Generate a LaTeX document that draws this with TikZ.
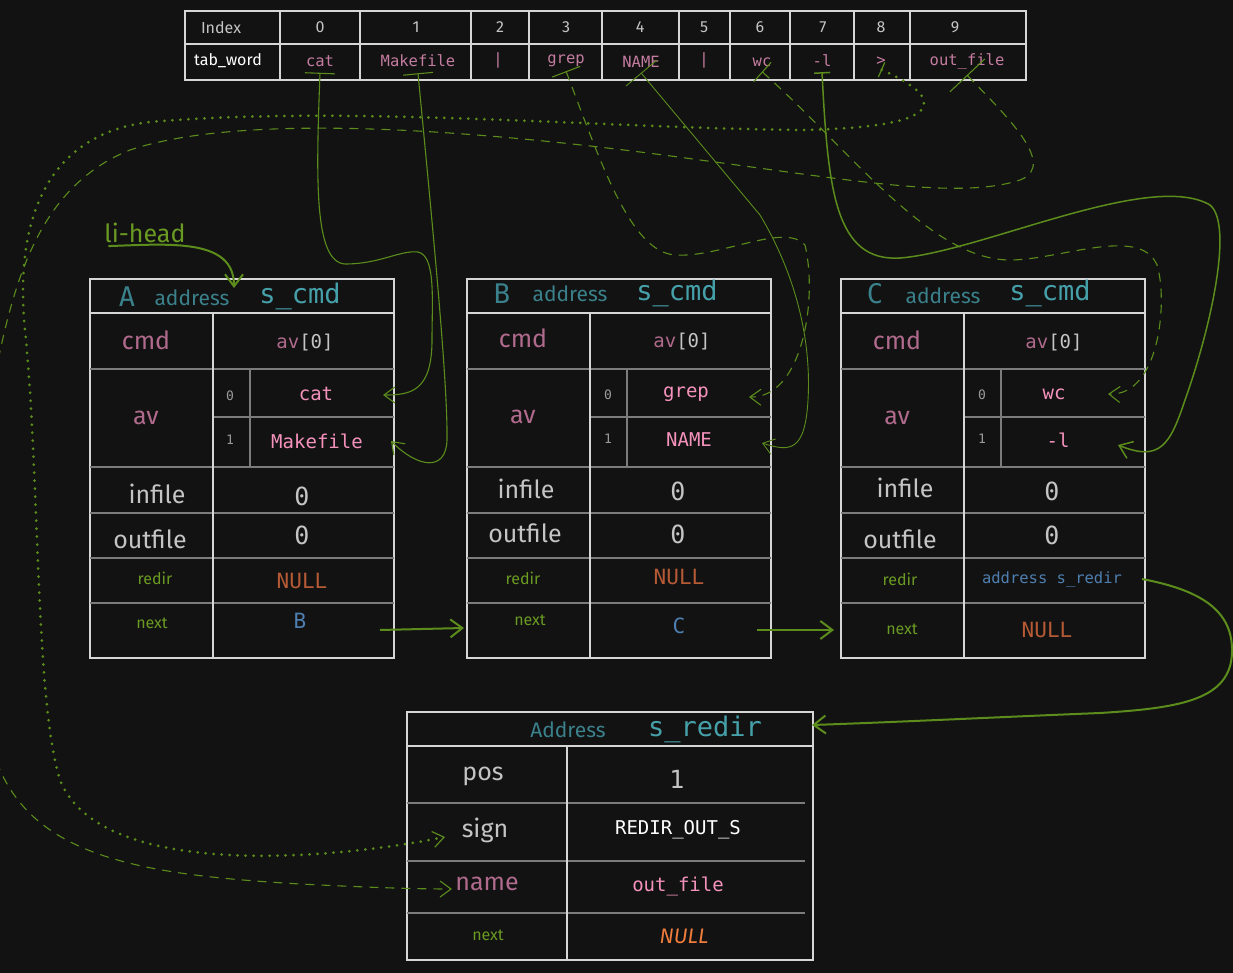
\documentclass[tikz,border=0pt]{standalone}
\usepackage{fontspec}
\setmonofont{DejaVu Sans Mono}
\newfontfamily\handfont{Fira Sans}
\usepackage{tikz}
\usetikzlibrary{arrows.meta}
\definecolor{bg}{HTML}{121212}
\definecolor{framecol}{HTML}{D6D6D6}
\definecolor{rowcol}{HTML}{7C7C7C}
\definecolor{wordpink}{HTML}{C47CA0}
\definecolor{valpink}{HTML}{F592BC}
\definecolor{mauve}{HTML}{B06A8C}
\definecolor{lightgrey}{HTML}{C4C4C4}
\definecolor{idxgrey}{HTML}{9A9A9A}
\definecolor{fieldgreen}{HTML}{6A9A22}
\definecolor{nullrust}{HTML}{B55A35}
\definecolor{ptrblue}{HTML}{4E7FB0}
\definecolor{tealdark}{HTML}{3A818B}
\definecolor{teallight}{HTML}{45A0AA}
\definecolor{linkgreen}{HTML}{5B8C1C}
\definecolor{nullorange}{HTML}{F07D3C}
\tikzstyle{frame}=[draw=framecol, line width=1.2pt]
\tikzstyle{rowsep}=[draw=rowcol, line width=1.6pt]
\tikzstyle{txt}=[inner sep=0pt, anchor=center]
\tikzstyle{handS}=[txt, font=\handfont\fontsize{16}{18}\selectfont]
\tikzstyle{handM}=[txt, font=\handfont\fontsize{21}{23}\selectfont]
\tikzstyle{handL}=[txt, font=\handfont\fontsize{25}{27}\selectfont]
\tikzstyle{monoS}=[txt, font=\ttfamily\fontsize{15.5}{17}\selectfont]
\tikzstyle{monoI}=[txt, font=\ttfamily\fontsize{13}{15}\selectfont, text=idxgrey]
\tikzstyle{monoM}=[txt, font=\ttfamily\fontsize{19}{21}\selectfont]
\tikzstyle{monoL}=[txt, font=\ttfamily\fontsize{21}{23}\selectfont]
\tikzstyle{monoXL}=[txt, font=\ttfamily\fontsize{25}{27}\selectfont]
\tikzstyle{monoH}=[txt, font=\ttfamily\fontsize{27}{29}\selectfont, text=teallight]
\tikzstyle{link}=[draw=linkgreen, line width=1.1pt, -{Straight Barb[length=11pt,width=16pt]}]
\tikzstyle{link2}=[draw=linkgreen, line width=2pt, -{Straight Barb[length=12pt,width=18pt]}]
\tikzstyle{dotline}=[line cap=round, line width=3pt, dash pattern=on 0pt off 8pt]
\tikzstyle{dashline}=[dash pattern=on 9pt off 7pt]
\begin{document}
\begin{tikzpicture}[x=1pt,y=-1pt]
\useasboundingbox[fill=bg] (0,0) rectangle (1233,973);
% tab_word table
\draw[frame] (185,11) rectangle (1026,80);
\draw[frame] (185,44) -- (1026,44);
\foreach \c in {280,360,471,529,602,679,730,790,854,910}
  \draw[frame] (\c,11) -- (\c,80);
\node[handS, text=lightgrey] (index) at (221,28) {Index};
\foreach \i/\c in {0/320,1/416,2/500,3/566,4/640,5/704,6/760,7/823,8/881,9/955}
  \node[handS, text=lightgrey] (i\i) at (\c,27) {\i};
\node[handS, text=white] (tabword) at (228,61) {tab\_word};
\node[monoS, text=wordpink] (w0) at (320,61) {cat};
\node[monoS, text=wordpink] (w1) at (418,61) {Makefile};
\node[monoS, text=wordpink] (w2) at (498,60) {|};
\node[monoS, text=wordpink] (w3) at (566,61) {grep};
\node[monoS, text=wordpink] (w4) at (641,62) {NAME};
\node[monoS, text=wordpink] (w5) at (704,60) {|};
\node[monoS, text=wordpink] (w6) at (762,62) {wc};
\node[monoS, text=wordpink] (w7) at (822,61) {-l};
\node[monoS, text=wordpink] (w8) at (881,61) {>};
\node[monoS, text=wordpink] (w9) at (967,61) {out\_file};
% s_cmd frames
\foreach \x in {90,467,841}{
  \draw[frame] (\x,279) rectangle ++(304,34);
  \draw[frame] (\x,313) rectangle ++(304,345);
  \draw[rowsep] (\x,369) -- ++(304,0);
  \draw[rowsep] (\x+123,417) -- ++(181,0);
  \foreach \r in {467,513,558,603}
    \draw[rowsep] (\x,\r) -- ++(304,0);
  \draw[frame] (\x+123,313) -- ++(0,345);
  \draw[rowsep] (\x+160,369) -- ++(0,98);
}
% A
\node[monoH, text=tealdark] (Aname) at (127,297) {A};
\node[handM, text=tealdark] (Aaddr) at (192,298) {address};
\node[monoH] (Atype) at (300,296) {s\_cmd};
\node[handL, text=mauve] (Acmd) at (146,340) {cmd};
\node[monoM] (Aav0) at (305,343) {\textcolor{mauve}{av}\textcolor{lightgrey}{[0]}};
\node[handL, text=mauve] (Aav) at (146,418) {av};
\node[monoI] (Ai0) at (230,396) {0};
\node[monoM, text=valpink] (Acat) at (316,394) {cat};
\node[monoI] (Ai1) at (230,440) {1};
\node[monoM, text=valpink] (Amake) at (317,441) {Makefile};
\node[handL, text=lightgrey] (Ainfile) at (157,494) {infile};
\node[monoXL, text=lightgrey] (Ain) at (302,496) {0};
\node[handL, text=lightgrey] (Aoutfile) at (150,539) {outfile};
\node[monoXL, text=lightgrey] (Aout) at (302,535) {0};
\node[handS, text=fieldgreen] (Aredir) at (155,578) {redir};
\node[monoL, text=nullrust] (Anull) at (302,581) {NULL};
\node[handS, text=fieldgreen] (Anextl) at (152,623) {next};
\node[monoL, text=ptrblue] (Anext) at (300,621) {B};
% B
\node[monoH, text=tealdark] (Bname) at (502,294) {B};
\node[handM, text=tealdark] (Baddr) at (570,294) {address};
\node[monoH] (Btype) at (677,293) {s\_cmd};
\node[handL, text=mauve] (Bcmd) at (523,338) {cmd};
\node[monoM] (Bav0) at (682,342) {\textcolor{mauve}{av}\textcolor{lightgrey}{[0]}};
\node[handL, text=mauve] (Bav) at (523,417) {av};
\node[monoI] (Bi0) at (608,395) {0};
\node[monoM, text=valpink] (Bgrep) at (686,394) {grep};
\node[monoI] (Bi1) at (608,439) {1};
\node[monoM, text=valpink] (Bword) at (689,440) {NAME};
\node[handL, text=lightgrey] (Binfile) at (526,489) {infile};
\node[monoXL, text=lightgrey] (Bin) at (678,491) {0};
\node[handL, text=lightgrey] (Boutfile) at (525,533) {outfile};
\node[monoXL, text=lightgrey] (Bout) at (678,534) {0};
\node[handS, text=fieldgreen] (Bredir) at (523,578) {redir};
\node[monoL, text=nullrust] (Bnull) at (679,577) {NULL};
\node[handS, text=fieldgreen] (Bnextl) at (530,620) {next};
\node[monoL, text=ptrblue] (Bnext) at (679,626) {C};
% C
\node[monoH, text=tealdark] (Cname) at (875,294) {C};
\node[handM, text=tealdark] (Caddr) at (943,296) {address};
\node[monoH] (Ctype) at (1050,293) {s\_cmd};
\node[handL, text=mauve] (Ccmd) at (897,340) {cmd};
\node[monoM] (Cav0) at (1054,343) {\textcolor{mauve}{av}\textcolor{lightgrey}{[0]}};
\node[handL, text=mauve] (Cav) at (897,418) {av};
\node[monoI] (Ci0) at (982,395) {0};
\node[monoM, text=valpink] (Cwc) at (1054,394) {wc};
\node[monoI] (Ci1) at (982,439) {1};
\node[monoM, text=valpink] (Cflag) at (1058,440) {-l};
\node[handL, text=lightgrey] (Cinfile) at (905,488) {infile};
\node[monoXL, text=lightgrey] (Cin) at (1052,491) {0};
\node[handL, text=lightgrey] (Coutfile) at (900,539) {outfile};
\node[monoXL, text=lightgrey] (Cout) at (1052,535) {0};
\node[handS, text=fieldgreen] (Credir) at (900,579) {redir};
\node[monoS, text=ptrblue] (Credirv) at (1052,579) {address s\_redir};
\node[handS, text=fieldgreen] (Cnextl) at (902,629) {next};
\node[monoL, text=nullrust] (Cnull) at (1047,630) {NULL};
% s_redir
\draw[frame] (407,712) rectangle (813,746);
\draw[frame] (407,746) rectangle (813,960);
\foreach \r in {803,861,913}
  \draw[rowsep] (407,\r) -- (805,\r);
\draw[frame] (567,746) -- (567,960);
\node[handM, text=tealdark] (Raddr) at (568,730) {Address};
\node[monoH] (Rtype) at (705,729) {s\_redir};
\node[handL, text=lightgrey] (Rpos) at (483,776) {pos};
\node[monoXL, text=lightgrey] (Rposv) at (677,779) {1};
\node[handL, text=lightgrey] (Rsign) at (485,830) {sign};
\node[monoM, text=white] (Rsignv) at (678,830) {REDIR\_OUT\_S};
\node[handL, text=mauve] (Rname) at (487,884) {name};
\node[monoM, text=valpink] (Rnamev) at (678,886) {out\_file};
\node[handS, text=fieldgreen] (Rnextl) at (488,935) {next};
\node[handM, text=nullorange, font=\handfont\itshape\fontsize{21}{23}\selectfont] (Rnull) at (684,936) {NULL};
% li-head
\node[handL, text=fieldgreen] (lihead) at (145,233) {li-head};
\coordinate (Ahead-in) at (234,288);
\coordinate (Acat-in) at (383,395);
\coordinate (Amake-in) at (391,441);
\coordinate (Bgrep-in) at (749,397);
\coordinate (Bword-in) at (762,443);
\coordinate (Cwc-in) at (1108,394);
\coordinate (Cflag-in) at (1118,445);
\coordinate (Rsign-in) at (445,837);
\coordinate (Rname-in) at (452,889);
\coordinate (Rhead-in) at (812,725);
\coordinate (Anext-out) at (380,630);
\coordinate (Bnext-in) at (464,628);
\coordinate (Bnext-out) at (757,630);
\coordinate (Cnext-in) at (834,630);
\coordinate (Credir-out) at (1142,579);
\draw[link2] ([xshift=4pt,yshift=-3pt]lihead.south west) .. controls (170,244) and (234,238) .. (Ahead-in);
\draw[link2] (Anext-out) -- (Bnext-in);
\draw[link2] (Bnext-out) -- (Cnext-in);
\draw[link2] (Credir-out) .. controls (1200,590) and (1233,610) .. (1232,652) .. controls (1231,700) and (1180,708) .. (1100,713) .. controls (1000,717) and (900,722) .. (Rhead-in);
% tab_word -> av
\draw[link, {Bar[width=30pt]}-{Straight Barb[length=11pt,width=16pt]}] ([yshift=-6pt]w0.south) .. controls (316,180) and (314,262) .. (345,264) .. controls (380,264) and (400,250) .. (418,252) .. controls (436,256) and (432,300) .. (432,340) .. controls (432,392) and (410,395) .. (Acat-in);
\draw[link, {Bar[width=30pt]}-{Straight Barb[length=11pt,width=16pt]}] ([yshift=-6pt]w1.south) .. controls (430,200) and (448,380) .. (447,440) .. controls (446,472) and (418,468) .. (Amake-in);
\draw[link, dashline, {Bar[width=30pt]}-{Straight Barb[length=11pt,width=16pt]}] ([yshift=-4pt]w3.south) .. controls (600,160) and (630,252) .. (675,255) .. controls (720,258) and (785,222) .. (805,245) .. controls (818,300) and (802,398) .. (Bgrep-in);
\draw[link, line width=0.9pt, {Bar[width=40pt]}-{Straight Barb[length=11pt,width=16pt]}] ([yshift=-5pt]w4.south) -- (760,215) .. controls (790,265) and (812,330) .. (808,400) .. controls (805,452) and (790,452) .. (Bword-in);
\draw[link, dashline, {Bar[width=26pt]}-{Straight Barb[length=11pt,width=16pt]}] ([yshift=-5pt]w6.south) .. controls (850,150) and (930,260) .. (1010,260) .. controls (1060,260) and (1140,225) .. (1157,265) .. controls (1168,300) and (1160,396) .. (Cwc-in);
\draw[link, line width=1.5pt, {Bar[width=16pt]}-{Straight Barb[length=12pt,width=18pt]}] ([yshift=-5pt]w7.south) .. controls (828,190) and (835,262) .. (900,258) .. controls (980,252) and (1150,170) .. (1210,205) .. controls (1234,225) and (1210,330) .. (1185,400) .. controls (1170,445) and (1160,462) .. (Cflag-in);
% tab_word -> s_redir
\draw[link, dotline, {Bar[width=16pt,line width=1.2pt]}-{Straight Barb[length=11pt,width=16pt,line width=1.2pt]}] ([yshift=-4pt]w8.south) .. controls (950,100) and (945,128) .. (800,130) .. controls (600,128) and (350,105) .. (150,122) .. controls (40,135) and (15,230) .. (25,330) .. controls (40,480) and (35,700) .. (60,780) .. controls (100,880) and (330,860) .. (Rsign-in);
\draw[link, dashline, {Bar[width=48pt]}-{Straight Barb[length=11pt,width=16pt]}] ([yshift=-6pt]w9.south) .. controls (1000,110) and (1060,165) .. (1020,180) .. controls (960,200) and (850,180) .. (700,160) .. controls (500,132) and (250,110) .. (130,150) .. controls (30,190) and (10,300) .. (-10,400) .. controls (-40,550) and (-30,700) .. (0,770) .. controls (40,860) and (150,875) .. (300,884) .. controls (380,888) and (420,889) .. (Rname-in);
\end{tikzpicture}
\end{document}
